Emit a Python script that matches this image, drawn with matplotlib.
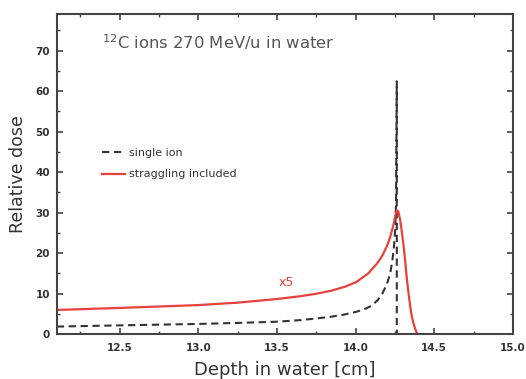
#!/usr/bin/env python3
import matplotlib
matplotlib.use("Agg")
import matplotlib.pyplot as plt
from matplotlib.ticker import MultipleLocator, FormatStrFormatter

# single ion Bragg curve
single_x = [12.10, 12.50, 13.00, 13.25, 13.50, 13.65, 13.75, 13.84, 13.92, 14.00, 14.05, 14.10,
            14.14, 14.17, 14.20, 14.22, 14.235, 14.245, 14.252, 14.257, 14.262, 14.262]
single_y = [1.9, 2.2, 2.55, 2.8, 3.1, 3.5, 3.9, 4.3, 4.8, 5.5, 6.1, 7.0,
            8.4, 10.0, 12.5, 15.0, 18.5, 22.0, 26.0, 32.0, 62.4, 0.0]

# straggling included, scaled x5
strag_x = [12.10, 12.50, 13.00, 13.25, 13.50, 13.65, 13.75, 13.84, 13.93, 14.00, 14.03, 14.08,
           14.137, 14.17, 14.20, 14.22, 14.241, 14.252, 14.262, 14.272, 14.284, 14.295, 14.306,
           14.317, 14.327, 14.338, 14.348, 14.358, 14.369, 14.38, 14.39, 14.40]
strag_y = [6.0, 6.5, 7.2, 7.8, 8.7, 9.4, 10.0, 10.7, 11.7, 12.8, 13.6, 15.0,
           17.5, 19.4, 21.8, 24.0, 27.0, 29.2, 30.6, 30.3, 28.1, 25.0, 21.6,
           17.3, 13.3, 9.7, 6.7, 4.3, 2.6, 1.2, 0.3, 0.0]

fig, ax = plt.subplots(figsize=(5.26, 3.79), dpi=100)
fig.subplots_adjust(left=0.108, right=0.975, top=0.963, bottom=0.118)

ax.plot(single_x, single_y, color="#333333", ls=(0, (3.5, 2.2)), lw=1.5, label="single ion")
ax.plot(strag_x, strag_y, color="#e8413c", lw=1.6, label="straggling included")

ax.set_xlim(12.1, 15.0)
ax.set_ylim(0, 79)
ax.xaxis.set_major_locator(MultipleLocator(0.5))
ax.xaxis.set_minor_locator(MultipleLocator(0.25))
ax.yaxis.set_major_locator(MultipleLocator(10))
ax.yaxis.set_minor_locator(MultipleLocator(5))
ax.xaxis.set_major_formatter(FormatStrFormatter("%.1f"))
ax.tick_params(which="both", direction="in", top=True, right=True, colors="#444444",
               labelcolor="#333333", labelsize=7.5)
ax.tick_params(axis="x", which="major", pad=6)
ax.tick_params(axis="y", which="major", pad=5)
ax.tick_params(which="major", length=4, width=1.2)
ax.tick_params(which="minor", length=2.5, width=1.0)
for t in ax.get_xticklabels() + ax.get_yticklabels():
    t.set_fontweight("bold")
for s in ax.spines.values():
    s.set_linewidth(1.5)
    s.set_color("#444444")

ax.set_xlabel("Depth in water [cm]", fontsize=13, color="#333333", labelpad=6)
ax.set_ylabel("Relative dose", fontsize=12.5, color="#333333", labelpad=6)

ax.text(0.099, 0.9125, r"$^{12}$C ions 270 MeV/u in water", transform=ax.transAxes,
        fontsize=11.8, color="#555555", va="center")
ax.text(13.51, 12.0, "x5", color="#e8413c", fontsize=9)

ax.legend(loc="upper left", bbox_to_anchor=(0.078, 0.612), frameon=False, fontsize=8,
          handlelength=2.0, handletextpad=0.4, labelspacing=1.0, labelcolor="#333333")

fig.savefig("out.png", dpi=100)
